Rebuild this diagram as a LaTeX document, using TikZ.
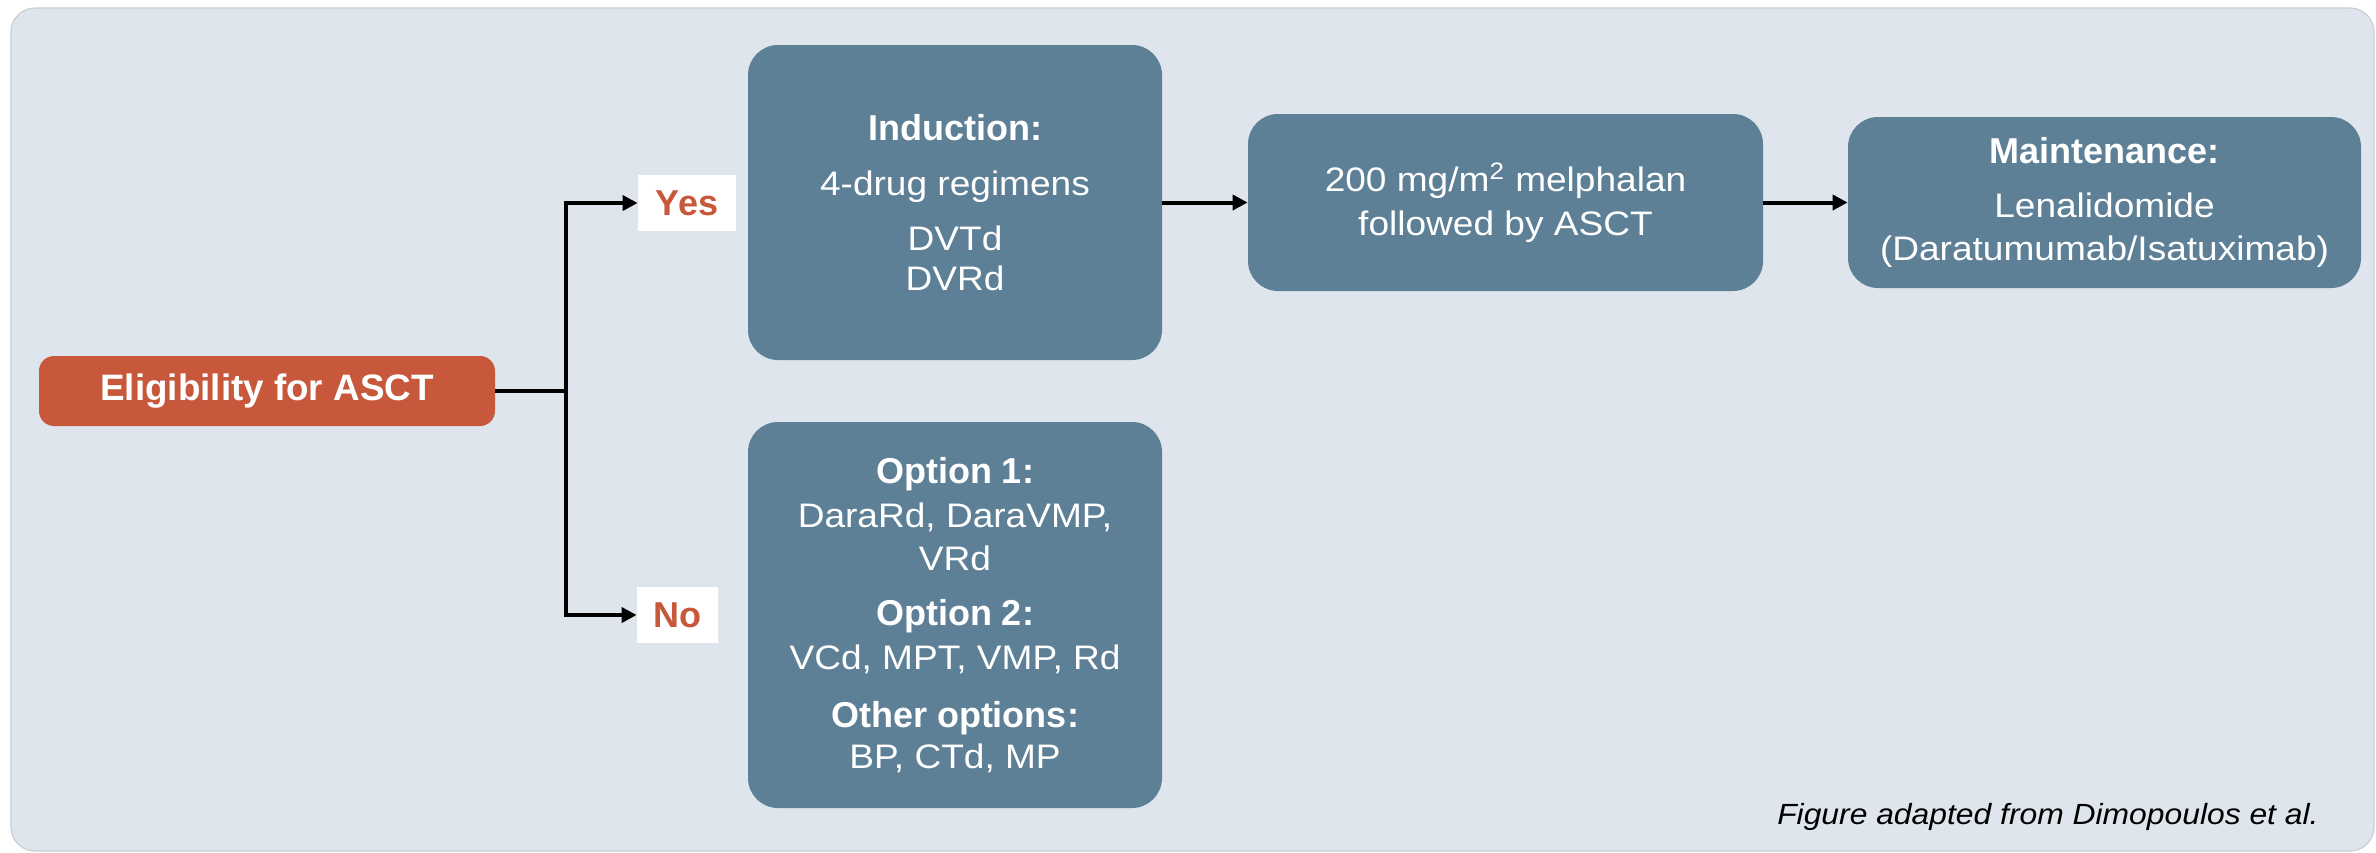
\documentclass[tikz,border=0pt]{standalone}
\usepackage{fontspec}
\setmainfont{Liberation Sans}[FakeStretch=1.09]
\newfontfamily\headfont{Liberation Sans}
\usetikzlibrary{arrows.meta}

\definecolor{panelbg}{RGB}{222,229,236}
\definecolor{panelline}{RGB}{200,206,212}
\definecolor{stepblue}{RGB}{94,128,150}
\definecolor{rust}{RGB}{200,88,60}

\newcommand{\headline}[1]{{\headfont\bfseries\fontsize{18}{21.75}\selectfont #1}}

\tikzset{
  stepbox/.style={fill=stepblue, rounded corners=15pt, inner sep=0pt, align=center,
    text=white, font=\fontsize{17}{21.75}\selectfont},
  startbox/.style={fill=rust, rounded corners=7.5pt, inner sep=0pt, text=white,
    minimum width=228pt, minimum height=35pt,
    font=\headfont\bfseries\fontsize{18.4}{22}\selectfont},
  answer/.style={fill=white, inner sep=0pt, minimum height=28pt, text=rust,
    font=\headfont\bfseries\fontsize{18}{22}\selectfont},
  link/.style={line width=2pt, black},
  arrowlink/.style={link, -{Triangle[length=7.5pt,width=7.5pt]}},
}

\begin{document}
\begin{tikzpicture}[x=0.5pt, y=-0.5pt]
\useasboundingbox (0,0) rectangle (2376,852);

% background panel
\draw[fill=panelbg, draw=panelline, line width=0.6pt, rounded corners=12pt]
  (11,8) rectangle (2374,851);

% decision node and answers
\node[startbox] (elig) at (267,391) {Eligibility for ASCT};
\node[answer, minimum width=49pt] (yes) at (687,203) {Yes};
\node[answer, minimum width=40.5pt] (no) at (677.5,615) {No};

% treatment steps
\node[stepbox, minimum width=207pt, minimum height=157.5pt] (ind) at (955,202.5)
  {\headline{Induction:}\\[5.75pt]
   4-drug regimens\\[5.75pt]
   DVTd\\[-1.5pt]
   DVRd};

\node[stepbox, minimum width=207pt, minimum height=193pt] (opt) at (955,615)
  {\headline{Option 1:}\\
   DaraRd, DaraVMP,\\
   VRd\\[5.75pt]
   \headline{Option 2:}\\
   VCd, MPT, VMP, Rd\\[7.25pt]
   \headline{Other options:}\\[-1.25pt]
   BP, CTd, MP};

\node[stepbox, minimum width=257.5pt, minimum height=88.5pt] (mel) at (1505.5,202.5)
  {200 mg/m\textsuperscript{2} melphalan\\
   followed by ASCT};

\node[stepbox, minimum width=256.5pt, minimum height=85.5pt] (mnt) at (2104.5,202.5)
  {\headline{Maintenance:}\\[5.25pt]
   Lenalidomide\\
   (Daratumumab/Isatuximab)};

% connectors
\coordinate (fork) at (566,391);
\draw[link] (elig.east) -- (fork);
\draw[arrowlink] (fork) |- (yes.west);
\draw[arrowlink] (fork) |- (no.west);
\draw[arrowlink] (ind.east) -- (mel.west);
\draw[arrowlink] (mel.east) -- (mnt.west);

% source note
\node[anchor=base east, inner sep=0pt, font=\itshape\fontsize{14.6}{17}\selectfont] (note)
  at (2319,824) {Figure adapted from Dimopoulos et al.};
\end{tikzpicture}
\end{document}
